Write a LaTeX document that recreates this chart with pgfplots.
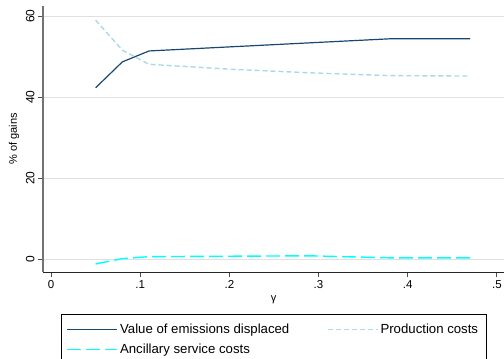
\documentclass[border=0pt]{standalone}
\usepackage{pgfplots}
\pgfplotsset{compat=1.18}
\usepackage{fontspec}
\setmainfont{Liberation Sans}
\definecolor{sNavy}{HTML}{1A476F}
\definecolor{sLtBlue}{HTML}{ADD8E6}
\definecolor{sCyan}{HTML}{00FFFF}
\begin{document}
\begin{tikzpicture}
\begin{axis}[
  name=ax,
  scale only axis, width=461pt, height=266pt,
  xmin=-0.009, xmax=0.508, ymin=-3.2, ymax=62.5,
  axis x line*=bottom, axis y line*=left,
  x axis line style={-, black!85, line width=0.9pt},
  y axis line style={-, black!55, line width=1.2pt},
  xtick={0,0.1,0.2,0.3,0.4,0.5}, xticklabels={0,.1,.2,.3,.4,.5},
  ytick={0,20,40,60},
  tick align=outside, major tick length=5pt,
  tick style={black!70, line width=0.8pt},
  yticklabel style={rotate=90, anchor=south, yshift=0pt, font=\fontsize{12}{14}\selectfont},
  xticklabel style={font=\fontsize{11.5}{13}\selectfont},
  ymajorgrids, grid style={black!12, line width=0.9pt},
  xlabel={γ}, ylabel={\% of gains},
  label style={font=\fontsize{11}{13}\selectfont},
  /pgf/number format/assume math mode=true,
  legend columns=2,
  legend cell align=left,
  legend style={at={(0.5,-0.157)}, anchor=north, draw=black,
    font=\fontsize{13.2}{15}\selectfont, inner xsep=6pt, inner ysep=8pt, row sep=5pt,
    /tikz/every even column/.append style={column sep=36pt}},
  legend image code/.code={\draw[#1, line width=1.2pt] (0pt,0pt) -- (50pt,0pt);},
]
\addplot[color=sNavy, line width=1.2pt] coordinates {
  (0.05,42.3) (0.08,48.7) (0.11,51.4) (0.20,52.4) (0.29,53.4) (0.38,54.4) (0.47,54.4)};
\addlegendentry{Value of emissions displaced}
\addplot[color=sLtBlue, line width=1.4pt, dash pattern=on 5pt off 3pt] coordinates {
  (0.05,59.0) (0.08,51.6) (0.11,48.1) (0.20,46.9) (0.29,46.0) (0.38,45.3) (0.47,45.2)};
\addlegendentry{Production costs}
\addplot[color=sCyan, line width=1.4pt, dash pattern=on 14pt off 5pt] coordinates {
  (0.05,-1.2) (0.08,0.1) (0.11,0.6) (0.20,0.7) (0.29,0.8) (0.38,0.3) (0.47,0.3)};
\addlegendentry{Ancillary service costs}
\end{axis}
\pgfresetboundingbox
\path[use as bounding box] ([xshift=-43pt,yshift=-86pt]ax.south west) rectangle ([yshift=6pt]ax.north east);
\end{tikzpicture}
\end{document}
